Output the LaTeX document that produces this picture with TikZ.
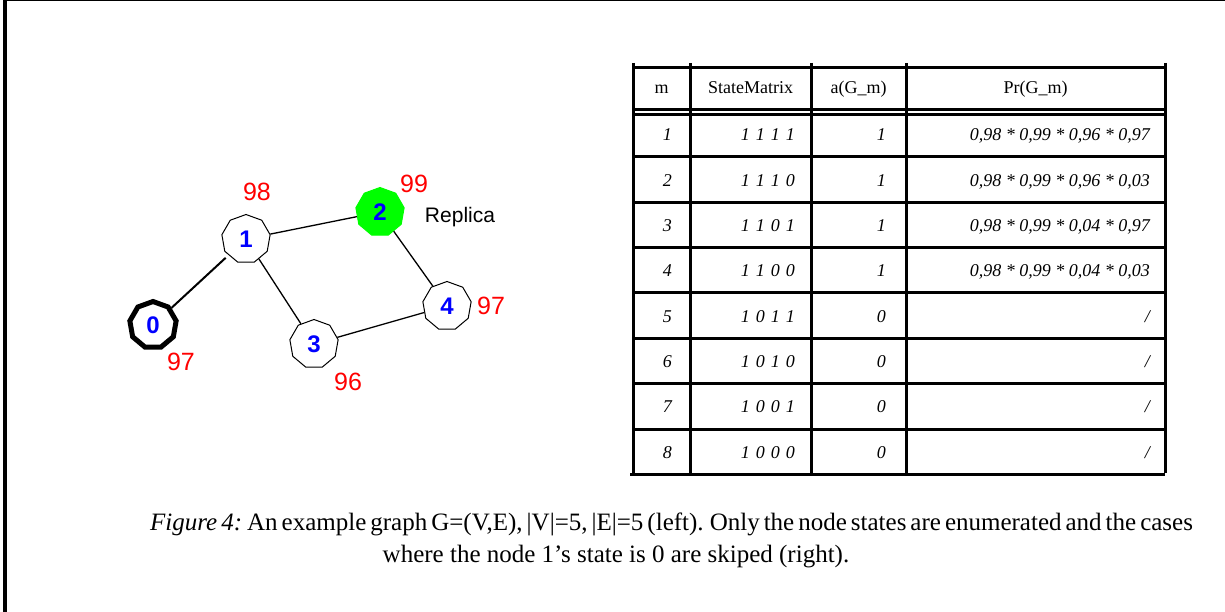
\documentclass[tikz,border=0pt]{standalone}
\usepackage{fontspec}
\setmainfont{Liberation Serif}
\newfontfamily\arialf{Liberation Sans}
\usetikzlibrary{shapes.geometric}
% spread the four digits of a state vector
\newcommand\spreaddigits[4]{#1\hspace{6pt}#2\hspace{6pt}#3\hspace{6pt}#4}

\begin{document}
\begin{tikzpicture}[x=1pt,y=-1pt,
  vertex/.style={regular polygon, regular polygon sides=9, draw, line width=1pt,
    minimum size=49pt, inner sep=0pt, fill=white,
    font=\arialf\bfseries\fontsize{24}{24}\selectfont, text=blue},
  prob/.style={font=\arialf\fontsize{25}{25}\selectfont, text=red, inner sep=0pt},
  edge/.style={line width=1.3pt},
  grid/.style={line width=3pt},
  thin grid/.style={line width=2.3pt},
  cell/.style={anchor=base east, inner sep=0pt, font=\fontsize{18}{18}\selectfont\itshape},
  head/.style={anchor=base, inner sep=0pt, font=\fontsize{18}{18}\selectfont},
  caption/.style={anchor=base, inner sep=0pt, font=\fontsize{25}{25}\selectfont},
]
\useasboundingbox (0,0) rectangle (1225,612);

% page frame
\draw[line width=1.5pt] (3,0.75) -- (1225,0.75);
\draw[line width=4pt] (4.7,0) -- (4.7,612);

% ---------- graph ----------
\node[vertex, line width=5pt, minimum size=47pt] (n0) at (153,325) {0};
\node[vertex] (n1) at (246,239) {1};
\node[vertex, fill=green, draw=green] (n2) at (380,212) {2};
\node[vertex] (n3) at (314,344) {3};
\node[vertex] (n4) at (447,306) {4};

\draw[line width=2pt, shorten >=4pt] (n0) -- (n1);
\draw[edge] (n1) -- (n2);
\draw[edge] (n1) -- (n3);
\draw[edge] (n2) -- (n4);
\draw[edge] (n3) -- (n4);

\node[prob] (p0) at (181,362) {97};
\node[prob] (p1) at (257,192) {98};
\node[prob] (p2) at (414,184) {99};
\node[prob] (p3) at (348,382) {96};
\node[prob] (p4) at (491,306) {97};
\node[inner sep=0pt, font=\arialf\fontsize{21}{21}\selectfont] (rep) at (460,217) {Replica};

% ---------- table ----------
\foreach \x in {633,690,811,906,1165} \draw[grid] (\x,63) -- (\x,473);
\draw[grid] (633,68) -- (1165,68);
\draw[thin grid] (633,109.5) -- (1165,109.5);
\draw[thin grid] (633,114.5) -- (1165,114.5);
\foreach \y in {157,202.5,247.5,292.5,338,383.5,429} \draw[grid] (633,\y) -- (1165,\y);
\draw[grid] (630,474) -- (1165,474);

\node[head] (h1) at (661.5,94) {m};
\node[head] (h2) at (750.5,94) {StateMatrix};
\node[head] (h3) at (858.5,94) {a(G\_m)};
\node[head] (h4) at (1035.5,94) {Pr(G\_m)};

\foreach \i/\s/\a/\p in {
  1/{1111}/1/{0,98 * 0,99 * 0,96 * 0,97},
  2/{1110}/1/{0,98 * 0,99 * 0,96 * 0,03},
  3/{1101}/1/{0,98 * 0,99 * 0,04 * 0,97},
  4/{1100}/1/{0,98 * 0,99 * 0,04 * 0,03},
  5/{1011}/0/{/},
  6/{1010}/0/{/},
  7/{1001}/0/{/},
  8/{1000}/0/{/}} {
  \pgfmathsetmacro\yb{141+(\i-1)*45.3}
  \node[cell] (m\i) at (672,\yb) {\i};
  \node[cell] (s\i) at (795,\yb) {\expandafter\spreaddigits\s};
  \node[cell] (a\i) at (886,\yb) {\a};
  \node[cell] (p\i) at (1150,\yb) {\p};
}

% ---------- caption ----------
\node[caption, anchor=base west] (cap1) at (150,530)
  {\spaceskip=4pt plus 1pt\textit{Figure 4:}\hspace{5pt}An example graph G=(V,E), |V|=5, |E|=5 (left). Only the node states are enumerated and the cases};
\node[caption] (cap2) at (616,562)
  {where the node 1’s state is 0 are skiped (right).};
\end{tikzpicture}
\end{document}
